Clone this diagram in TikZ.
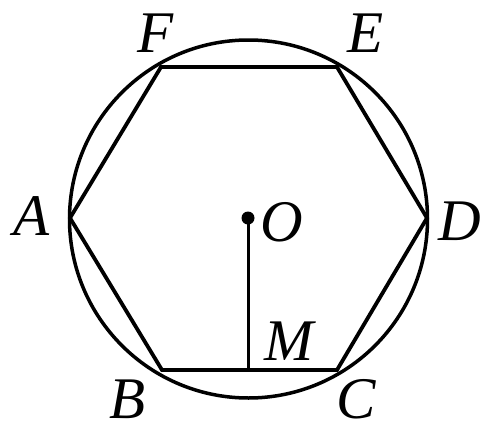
\documentclass[tikz,border=0pt]{standalone}
\usepackage{fontspec}
\setmainfont{Liberation Serif}
\begin{document}
\begin{tikzpicture}[x=1pt,y=-1pt,
  lbl/.style={inner sep=0pt,anchor=base,font=\fontsize{59}{60}\selectfont\itshape},
  edge/.style={line width=3.8pt,line join=miter},
  ring/.style={line width=3.5pt}]
\useasboundingbox (0,0) rectangle (483,426);
\coordinate (A) at (70,218);
\coordinate (B) at (162,370);
\coordinate (C) at (337,370);
\coordinate (D) at (427,218);
\coordinate (E) at (337,67);
\coordinate (F) at (161,67);
\coordinate (O) at (248,218);
\coordinate (M) at (248,370);
\draw[ring] (248.5,219) circle[radius=179];
\draw[edge] (A) -- (B) -- (C) -- (D) -- (E) -- (F) -- cycle;
\draw[line width=3pt] (O) -- (M);
\fill (O) circle[radius=6.5];
\node[lbl] (lF) at (156,52) {F};
\node[lbl] (lE) at (366,52) {E};
\node[lbl] (lA) at (32,235) {A};
\node[lbl] (lD) at (460,240) {D};
\node[lbl] (lO) at (282,241) {O};
\node[lbl] (lM) at (289,360) {M};
\node[lbl] (lB) at (128,418) {B};
\node[lbl] (lC) at (356,418) {C};
\end{tikzpicture}
\end{document}
